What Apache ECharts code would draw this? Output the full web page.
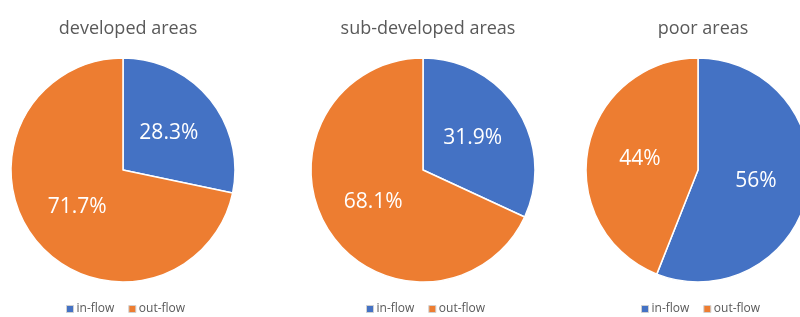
<!DOCTYPE html>
<html><head><meta charset="utf-8">
<script src="https://cdn.jsdelivr.net/npm/echarts@6/dist/echarts.min.js"></script>
<style>html,body{margin:0;padding:0;background:#fff;}#c{width:800px;height:317px;}</style>
</head><body><div id="c"></div>
<script>
const titles = ['developed areas', 'sub-developed areas', 'poor areas'];
const categories = ['in-flow', 'out-flow'];
const inflow = [28.3, 31.9, 56];
const outflow = [71.7, 68.1, 44];
const colors = ['#4472C4', '#ED7D31'];

const centersX = [123, 423, 698];
const font = 'Open Sans, DejaVu Sans, sans-serif';
const chart = echarts.init(document.getElementById('c'));
const option = {
  animation: false,
  color: colors,
  title: titles.map((t, i) => ({
    text: t, left: centersX[i], top: 15, textAlign: 'center',
    textStyle: {color: '#595959', fontSize: 18, fontWeight: 'normal', fontFamily: font}
  })),
  legend: titles.map((t, i) => ({
    data: categories, left: centersX[i] - 62, top: 298, orient: 'horizontal',
    icon: 'rect', itemWidth: 7, itemHeight: 7, itemGap: 14,
    itemStyle: {borderColor: '#d0d0d0', borderWidth: 1},
    textStyle: {color: '#595959', fontSize: 12, fontFamily: font, padding: [0, 0, 0, -2]},
    seriesIndex: i
  })),
  series: titles.map((t, i) => ({
    type: 'pie', name: t,
    center: [centersX[i], 170], radius: [0, 112],
    startAngle: 90, clockwise: true,
    itemStyle: {borderColor: '#fff', borderWidth: 1.5},
    label: {show: true, position: 'inside', color: '#fff', fontSize: 21, fontFamily: font,
      formatter: p => p.value + '%'},
    labelLine: {show: false},
    emphasis: {disabled: true},
    data: [
      {name: categories[0], value: inflow[i]},
      {name: categories[1], value: outflow[i]}
    ]
  }))
};
chart.setOption(option);
</script></body></html>
